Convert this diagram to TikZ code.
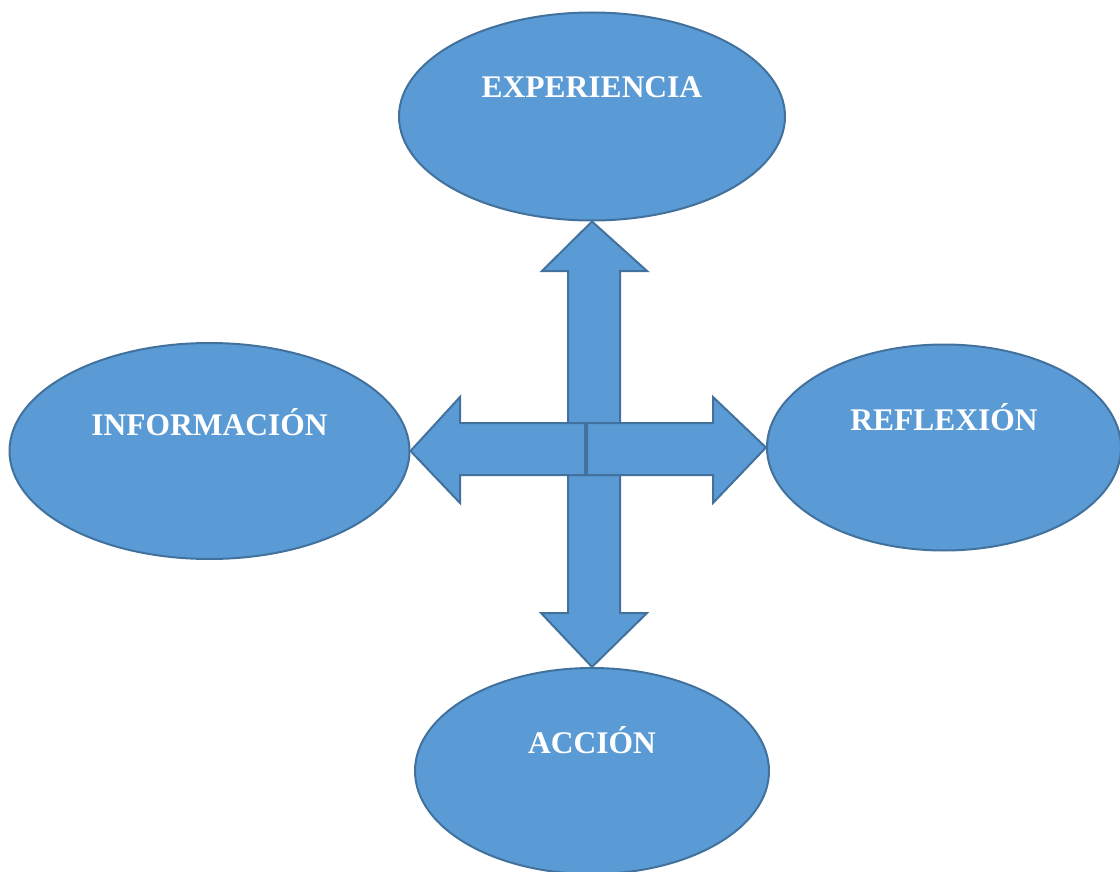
\documentclass[tikz,border=0pt]{standalone}
\usepackage{fontspec}
\setmainfont{Liberation Serif}
\usepackage{tikz}
\usetikzlibrary{calc,shapes.geometric}
\definecolor{azul}{HTML}{5B9BD5}
\definecolor{borde}{HTML}{41719C}

\begin{document}
\begin{tikzpicture}[x=1pt,y=-1pt,
	elipse/.style={ellipse,draw=borde,fill=azul,line width=2pt,inner sep=0pt},
	flecha/.style={draw=borde,fill=azul,line width=2pt,line join=miter},
	etiqueta/.style={anchor=base,text=white,font=\fontsize{31.5}{36}\selectfont\bfseries}]
	\useasboundingbox (0,0) rectangle (1120,872);
	\node[elipse,minimum width=386pt,minimum height=208pt] (exp) at (592,116.5) {};
	\node[elipse,minimum width=400pt,minimum height=216pt] (info) at (209.5,451) {};
	\node[elipse,minimum width=354pt,minimum height=206pt] (refl) at (944,447.5) {};
	\node[elipse,minimum width=354pt,minimum height=206pt] (acc) at (592,771) {};
	\node[etiqueta] (texp) at ($(exp.center)+(0,-19)$) {EXPERIENCIA};
	\node[etiqueta] (tinfo) at ($(info.center)+(0,-16)$) {INFORMACIÓN};
	\node[etiqueta] (trefl) at ($(refl.center)+(0,-17.5)$) {REFLEXIÓN};
	\node[etiqueta] (tacc) at ($(acc.center)+(0,-17.5)$) {ACCIÓN};
	\coordinate (c) at (594,449);
	\draw[flecha] (exp.south) -- ($(c)+(53,-178)$) -- ($(c)+(26,-178)$) -- ($(c)+(26,-26)$)
		-- ($(c)+(-26,-26)$) -- ($(c)+(-26,-178)$) -- ($(c)+(-52,-178)$) -- cycle;
	\draw[flecha] (acc.north) -- ($(c)+(53,164)$) -- ($(c)+(26,164)$) -- ($(c)+(26,26)$)
		-- ($(c)+(-26,26)$) -- ($(c)+(-26,164)$) -- ($(c)+(-53,164)$) -- cycle;
	\draw[flecha] (info.east) -- ($(c)+(-134,-52)$) -- ($(c)+(-134,-26)$) -- ($(c)+(-9,-26)$)
		-- ($(c)+(-9,26)$) -- ($(c)+(-134,26)$) -- ($(c)+(-134,54)$) -- cycle;
	\draw[flecha] (refl.west) -- ($(c)+(119,54)$) -- ($(c)+(119,26)$) -- ($(c)+(-7,26)$)
		-- ($(c)+(-7,-26)$) -- ($(c)+(119,-26)$) -- ($(c)+(119,-52)$) -- cycle;
\end{tikzpicture}
\end{document}
